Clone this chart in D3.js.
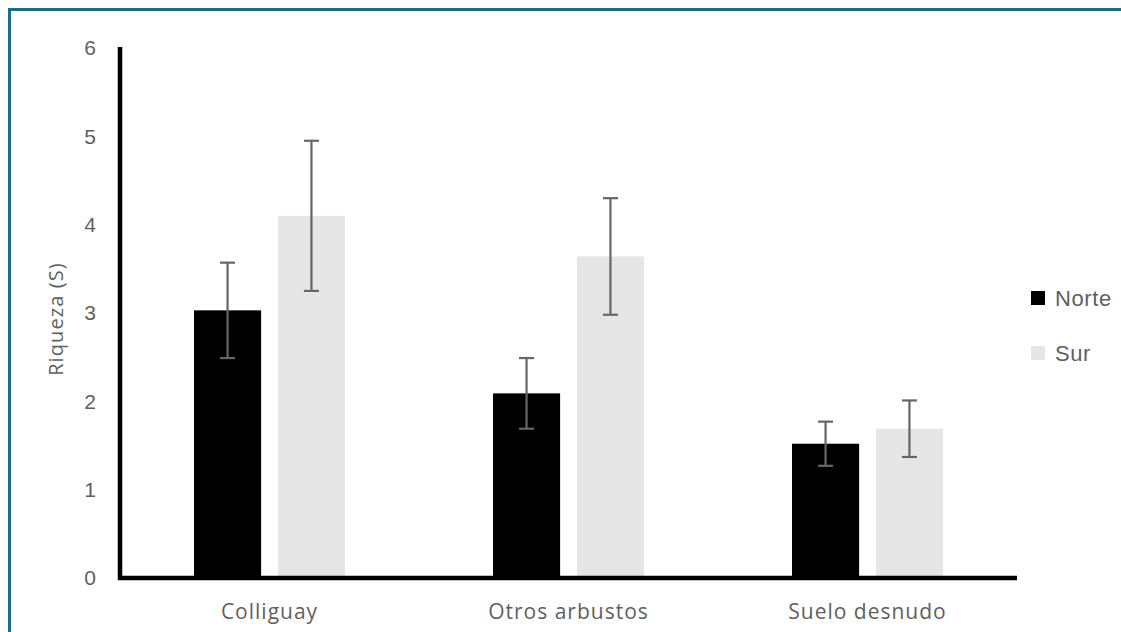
<!DOCTYPE html>
<html><head><meta charset="utf-8">
<script src="https://cdn.jsdelivr.net/npm/d3@7"></script>
<style>body{margin:0;background:#fff}svg{display:block}</style>
</head><body>
<svg id="c" width="1121" height="632"></svg>
<script>
const categories = ["Colliguay", "Otros arbustos", "Suelo desnudo"];
const seriesNames = ["Norte", "Sur"];
const norteValues = [3.03, 2.09, 1.52];
const surValues = [4.10, 3.64, 1.69];
const norteErrors = [0.54, 0.40, 0.25];
const surErrors = [0.85, 0.66, 0.32];
const yTicks = [0, 1, 2, 3, 4, 5, 6];
const yTitle = "Riqueza (S)";
const colors = ["#000000", "#e6e6e6"];

(function () {
const svg = d3.select("#c");
const textColor = "#5f5f5f";
const sansA = "'Liberation Sans', Arial, sans-serif";
const sansB = "'Open Sans', sans-serif";
// outer frame
svg.append("path").attr("d", "M9.5,632 V9.5 H1121").attr("fill", "none")
  .attr("stroke", "#1f6a8a").attr("stroke-width", 3);

const mLeft = 120, mRight = 1017, mTop = 48, mBottom = 578;
const y = d3.scaleLinear().domain([0, 6]).range([mBottom, mTop]);
const x0 = d3.scaleBand().domain(categories).range([mLeft, mRight]).padding(0);
const bw = x0.bandwidth();
const x1 = d3.scaleBand().domain(seriesNames).range([bw / 2 - 75.5, bw / 2 + 75.5]).paddingInner(0.2);

const data = categories.map((c, i) => ({
  cat: c,
  vals: [
    {s: "Norte", v: norteValues[i], e: norteErrors[i]},
    {s: "Sur", v: surValues[i], e: surErrors[i]}
  ]
}));

const g = svg.append("g");
const groups = g.selectAll("g.grp").data(data).join("g").attr("class", "grp")
  .attr("transform", d => `translate(${x0(d.cat)},0)`);
groups.selectAll("rect").data(d => d.vals).join("rect")
  .attr("x", d => x1(d.s)).attr("width", x1.bandwidth())
  .attr("y", d => y(d.v)).attr("height", d => y(0) - y(d.v))
  .attr("fill", (d, i) => colors[i]);

// error bars
const eb = groups.selectAll("g.eb").data(d => d.vals).join("g").attr("class", "eb");
const cx = d => x1(d.s) + x1.bandwidth() / 2;
eb.append("line").attr("x1", cx).attr("x2", cx)
  .attr("y1", d => y(d.v + d.e)).attr("y2", d => y(d.v - d.e))
  .attr("stroke", "#666").attr("stroke-width", 2.2);
eb.append("line").attr("x1", d => cx(d) - 7.5).attr("x2", d => cx(d) + 7.5)
  .attr("y1", d => y(d.v + d.e)).attr("y2", d => y(d.v + d.e))
  .attr("stroke", "#666").attr("stroke-width", 2.2);
eb.append("line").attr("x1", d => cx(d) - 7.5).attr("x2", d => cx(d) + 7.5)
  .attr("y1", d => y(d.v - d.e)).attr("y2", d => y(d.v - d.e))
  .attr("stroke", "#666").attr("stroke-width", 2.2);

// y axis
const yAxis = d3.axisLeft(y).tickValues(yTicks).tickSize(0).tickPadding(24).tickFormat(d3.format("d"));
const ya = svg.append("g").attr("transform", `translate(${mLeft},0)`).call(yAxis);
ya.select(".domain").remove();
ya.selectAll("text").attr("font-family", sansA).attr("font-size", 21)
  .attr("fill", textColor);

// x axis
const xAxis = d3.axisBottom(x0).tickSize(0).tickPadding(26);
const xa = svg.append("g").attr("transform", `translate(0,${mBottom})`).call(xAxis);
xa.select(".domain").remove();
xa.selectAll("text").attr("font-family", sansB).attr("font-size", 21)
  .attr("letter-spacing", 1).attr("fill", textColor);

// axis lines
svg.append("line").attr("x1", mLeft).attr("x2", mLeft).attr("y1", mTop - 1).attr("y2", mBottom + 2)
  .attr("stroke", "#000").attr("stroke-width", 4.5);
svg.append("line").attr("x1", mLeft - 2).attr("x2", mRight).attr("y1", mBottom).attr("y2", mBottom)
  .attr("stroke", "#000").attr("stroke-width", 4.5);

// y title
svg.append("text").attr("transform", `translate(63,319) rotate(-90)`)
  .attr("text-anchor", "middle").attr("font-family", sansB)
  .attr("font-size", 20).attr("letter-spacing", 1.1).attr("fill", textColor).text(yTitle);

// legend
const lg = svg.append("g").attr("transform", "translate(1031,291)");
const li = lg.selectAll("g").data(seriesNames).join("g").attr("transform", (d, i) => `translate(0,${i * 55})`);
li.append("rect").attr("width", 14).attr("height", 14).attr("fill", (d, i) => colors[i]);
li.append("text").attr("x", 24).attr("y", 7).attr("dy", "0.35em")
  .attr("font-family", sansA).attr("font-size", 22).attr("letter-spacing", 0.6)
  .attr("fill", textColor).text(d => d);
})();
</script>
</body></html>
